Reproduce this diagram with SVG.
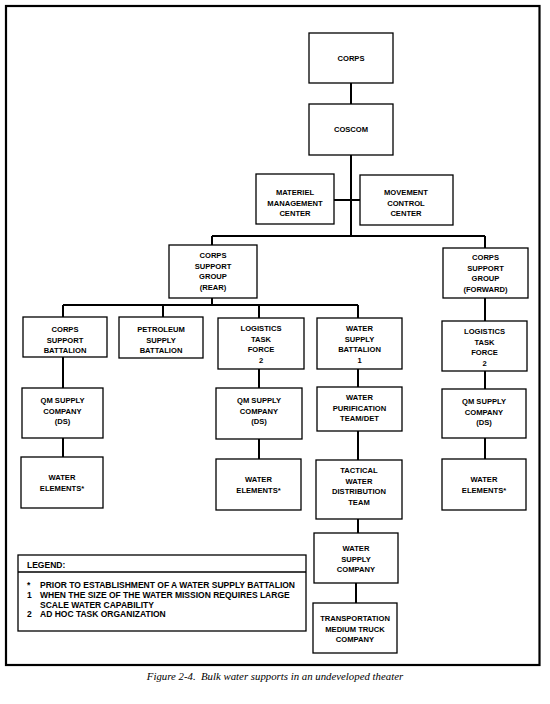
<svg xmlns="http://www.w3.org/2000/svg" width="550" height="704" viewBox="0 0 550 704">
<style>
.b{fill:#fff;stroke:#000;stroke-width:1.3}
.t{font-family:"Liberation Sans",Arial,sans-serif;font-weight:bold;font-size:7.6px;fill:#000;text-anchor:middle}
.c{stroke:#000;stroke-width:2;fill:none}
.lg{font-family:"Liberation Sans",Arial,sans-serif;font-weight:bold;font-size:8.5px;fill:#000}
.cap{font-family:"Liberation Serif","Times New Roman",serif;font-style:italic;font-size:10.8px;fill:#000;text-anchor:middle}
</style>
<rect width="550" height="704" fill="#fff"/>
<rect x="6" y="6" width="533.5" height="659" fill="none" stroke="#000" stroke-width="2.2"/>
<g id="connectors" class="c">
<path d="M351 83V104M351 155V236M334 200H360M212 236H485M212 236V245M485 236V248"/>
<path d="M212 298V305M63 305H358M63 305V317M163 305V317M259 305V318M358 305V318M485 298V321"/>
<path d="M63 357V388M63 438V457M259 369V388M259 439V459M358 369V387M358 431V460M358 519V533M356 583V603M485 371V389M485 438V459"/>
</g>
<g id="corps"><rect class="b" x="309" y="33" width="84" height="50"/><text class="t" x="351" y="61">CORPS</text></g>
<g id="coscom"><rect class="b" x="309" y="104" width="84" height="51"/><text class="t" x="351" y="132">COSCOM</text></g>
<g id="mmc"><rect class="b" x="256" y="174" width="78" height="50"/><text class="t" x="295" y="195">MATERIEL</text><text class="t" x="295" y="205.5">MANAGEMENT</text><text class="t" x="295" y="216">CENTER</text></g>
<g id="mcc"><rect class="b" x="360" y="175" width="93" height="50"/><text class="t" x="406" y="195">MOVEMENT</text><text class="t" x="406" y="205.5">CONTROL</text><text class="t" x="406" y="216">CENTER</text></g>
<g id="csg-rear"><rect class="b" x="169" y="245" width="88" height="53"/><text class="t" x="213" y="258">CORPS</text><text class="t" x="213" y="268.5">SUPPORT</text><text class="t" x="213" y="279">GROUP</text><text class="t" x="213" y="289.5">(REAR)</text></g>
<g id="csg-fwd"><rect class="b" x="443" y="248" width="85" height="50"/><text class="t" x="485.5" y="260">CORPS</text><text class="t" x="485.5" y="270.5">SUPPORT</text><text class="t" x="485.5" y="281">GROUP</text><text class="t" x="485.5" y="291.5">(FORWARD)</text></g>
<g id="csb"><rect class="b" x="23" y="317" width="84" height="40"/><text class="t" x="65" y="332">CORPS</text><text class="t" x="65" y="342.5">SUPPORT</text><text class="t" x="65" y="353">BATTALION</text></g>
<g id="psb"><rect class="b" x="119" y="317" width="84" height="41"/><text class="t" x="161" y="332">PETROLEUM</text><text class="t" x="161" y="342.5">SUPPLY</text><text class="t" x="161" y="353">BATTALION</text></g>
<g id="ltf-rear"><rect class="b" x="218" y="318" width="86" height="51"/><text class="t" x="261" y="331">LOGISTICS</text><text class="t" x="261" y="341.5">TASK</text><text class="t" x="261" y="352">FORCE</text><text class="t" x="261" y="362.5">2</text></g>
<g id="wsb"><rect class="b" x="317" y="318" width="85" height="51"/><text class="t" x="359.5" y="331">WATER</text><text class="t" x="359.5" y="341.5">SUPPLY</text><text class="t" x="359.5" y="352">BATTALION</text><text class="t" x="359.5" y="362.5">1</text></g>
<g id="ltf-fwd"><rect class="b" x="442" y="321" width="85" height="50"/><text class="t" x="484.5" y="334">LOGISTICS</text><text class="t" x="484.5" y="344.5">TASK</text><text class="t" x="484.5" y="355">FORCE</text><text class="t" x="484.5" y="365.5">2</text></g>
<g id="qm-left"><rect class="b" x="22" y="388" width="81" height="50"/><text class="t" x="62.5" y="403">QM SUPPLY</text><text class="t" x="62.5" y="413.5">COMPANY</text><text class="t" x="62.5" y="424">(DS)</text></g>
<g id="qm-mid"><rect class="b" x="216" y="388" width="86" height="51"/><text class="t" x="259" y="403">QM SUPPLY</text><text class="t" x="259" y="413.5">COMPANY</text><text class="t" x="259" y="424">(DS)</text></g>
<g id="wpt"><rect class="b" x="317" y="387" width="85" height="44"/><text class="t" x="359.5" y="400">WATER</text><text class="t" x="359.5" y="410.5">PURIFICATION</text><text class="t" x="359.5" y="421">TEAM/DET</text></g>
<g id="qm-right"><rect class="b" x="442" y="389" width="84" height="49"/><text class="t" x="484" y="404">QM SUPPLY</text><text class="t" x="484" y="414.5">COMPANY</text><text class="t" x="484" y="425">(DS)</text></g>
<g id="we-left"><rect class="b" x="21" y="457" width="82" height="51"/><text class="t" x="62" y="480">WATER</text><text class="t" x="62" y="490.5">ELEMENTS*</text></g>
<g id="we-mid"><rect class="b" x="216" y="459" width="85" height="51"/><text class="t" x="258.5" y="482">WATER</text><text class="t" x="258.5" y="492.5">ELEMENTS*</text></g>
<g id="twdt"><rect class="b" x="316" y="460" width="86" height="59"/><text class="t" x="359" y="473">TACTICAL</text><text class="t" x="359" y="483.5">WATER</text><text class="t" x="359" y="494">DISTRIBUTION</text><text class="t" x="359" y="504.5">TEAM</text></g>
<g id="we-right"><rect class="b" x="442" y="459" width="84" height="51"/><text class="t" x="484" y="482">WATER</text><text class="t" x="484" y="492.5">ELEMENTS*</text></g>
<g id="wsc"><rect class="b" x="314" y="533" width="84" height="50"/><text class="t" x="356" y="551">WATER</text><text class="t" x="356" y="561.5">SUPPLY</text><text class="t" x="356" y="572">COMPANY</text></g>
<g id="tmtc"><rect class="b" x="313" y="603" width="84" height="50"/><text class="t" x="355" y="621">TRANSPORTATION</text><text class="t" x="355" y="631.5">MEDIUM TRUCK</text><text class="t" x="355" y="642">COMPANY</text></g>
<g id="legend">
<rect class="b" x="18" y="555" width="288" height="76"/>
<line x1="18" y1="572" x2="306" y2="572" stroke="#000" stroke-width="1.3"/>
<text class="lg" x="27" y="567.5">LEGEND:</text>
<text class="lg" x="27" y="588">*</text><text class="lg" x="40" y="588">PRIOR TO ESTABLISHMENT OF A WATER SUPPLY BATTALION</text>
<text class="lg" x="27" y="598">1</text><text class="lg" x="40" y="598">WHEN THE SIZE OF THE WATER MISSION REQUIRES LARGE</text>
<text class="lg" x="40" y="607.5">SCALE WATER CAPABILITY</text>
<text class="lg" x="27" y="617">2</text><text class="lg" x="40" y="617">AD HOC TASK ORGANIZATION</text>
</g>
<text class="cap" x="275" y="680">Figure 2-4.&#160; Bulk water supports in an undeveloped theater</text>
</svg>
